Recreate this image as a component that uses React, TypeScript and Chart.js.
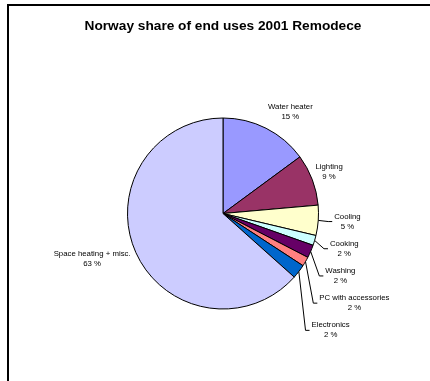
import React, { useEffect, useRef } from "react";
import { Chart, registerables } from "chart.js";

Chart.register(...registerables);

const TITLE = "Norway share of end uses 2001 Remodece";
const categories = [
  "Water heater",
  "Lighting",
  "Cooling",
  "Cooking",
  "Washing",
  "PC with accessories",
  "Electronics",
  "Space heating + misc.",
];
const values = [14.9, 8.7, 5.1, 1.7, 2.2, 1.6, 2.4, 63.4];
const colors = [
  "#9999FF",
  "#993366",
  "#FFFFCC",
  "#CCFFFF",
  "#660066",
  "#FF8080",
  "#0066CC",
  "#CCCCFF",
];
// label layout tweaks (px) for non-callout labels
const labelNudge: [number, number][] = [
  [7, 7],
  [-11, 1],
  [0, 0],
  [0, 0],
  [0, 0],
  [0, 0],
  [0, 0],
  [6, -4.5],
];

const FONT = '"Liberation Sans", Arial, Helvetica, sans-serif';
const LABEL_SIZE = 7.8;
const LINE_H = 10;
const GAP = 16;
const STACK = 27.2;
const CALLOUT_PCT = 6;

const framePlugin = {
  id: "frame",
  beforeDraw(chart: any) {
    const ctx = chart.ctx;
    ctx.save();
    ctx.fillStyle = "#fff";
    ctx.fillRect(0, 0, chart.width, chart.height);
    ctx.fillStyle = "#000";
    ctx.fillRect(7, 4, chart.width - 7, 2);
    ctx.fillRect(7, 4, 2, chart.height - 4);
    // title
    const ca = chart.chartArea;
    ctx.font = `bold 13.7px ${FONT}`;
    ctx.textAlign = "center";
    ctx.textBaseline = "alphabetic";
    ctx.fillText(TITLE, (ca.left + ca.right) / 2, 30);
    ctx.restore();
  },
};

const labelPlugin = {
  id: "pieLabels",
  afterDraw(chart: any) {
    const ctx = chart.ctx;
    const meta = chart.getDatasetMeta(0);
    const total = values.reduce((a, b) => a + b, 0);
    ctx.save();
    ctx.font = `${LABEL_SIZE}px ${FONT}`;
    ctx.fillStyle = "#000";
    ctx.strokeStyle = "#000";
    ctx.lineWidth = 1;
    let prevY = -Infinity;
    meta.data.forEach((arc: any, i: number) => {
      const p = arc.getProps(["x", "y", "startAngle", "endAngle", "outerRadius"], true);
      const mid = (p.startAngle + p.endAngle) / 2;
      const dx = Math.cos(mid);
      const dy = Math.sin(mid);
      const pct = (values[i] / total) * 100;
      const lines = [categories[i], `${Math.round(pct)} %`];
      const w = Math.max(...lines.map((l) => ctx.measureText(l).width));
      const h = lines.length * LINE_H;
      const ax = p.x + dx * (p.outerRadius + GAP);
      const ay = p.y + dy * (p.outerRadius + GAP);
      const ex = p.x + dx * p.outerRadius;
      const ey = p.y + dy * p.outerRadius;
      const callout = pct < CALLOUT_PCT;
      let cx: number;
      let cy: number;
      if (callout) {
        cx = ax + w / 2;
        cy = Math.max(ay, prevY + STACK);
      } else {
        cx = ax + (dx * w) / 2 + labelNudge[i][0];
        cy = ay + (dy * h) / 2 + labelNudge[i][1];
      }
      if (dx > 0) prevY = cy;
      if (callout) {
        const left = cx - w / 2;
        ctx.beginPath();
        ctx.moveTo(ex, ey);
        ctx.lineTo(left - 6, cy);
        ctx.lineTo(left - 2, cy);
        ctx.stroke();
      }
      ctx.textAlign = "center";
      ctx.textBaseline = "middle";
      lines.forEach((l, k) => {
        ctx.fillText(l, cx, cy - h / 2 + LINE_H / 2 + k * LINE_H);
      });
    });
    ctx.restore();
  },
};

export default function App() {
  const ref = useRef<HTMLCanvasElement | null>(null);
  useEffect(() => {
    if (!ref.current) return;
    const chart = new Chart(ref.current, {
      type: "pie",
      data: {
        labels: categories,
        datasets: [
          {
            data: values,
            backgroundColor: colors,
            borderColor: "#000",
            borderWidth: 1,
          },
        ],
      },
      options: {
        responsive: false,
        animation: false,
        layout: { padding: { left: 127, right: 111, top: 117.5, bottom: 71.5 } },
        plugins: {
          legend: { display: false },
          tooltip: { enabled: false },
          title: { display: false },
        },
      },
      plugins: [framePlugin, labelPlugin],
    });
    return () => chart.destroy();
  }, []);
  return (
    <div style={{ position: "fixed", left: 0, top: 0, width: 430, height: 381, overflow: "hidden", background: "#fff" }}>
      <canvas ref={ref} width={430} height={381} style={{ display: "block", width: 430, height: 381 }} />
    </div>
  );
}
